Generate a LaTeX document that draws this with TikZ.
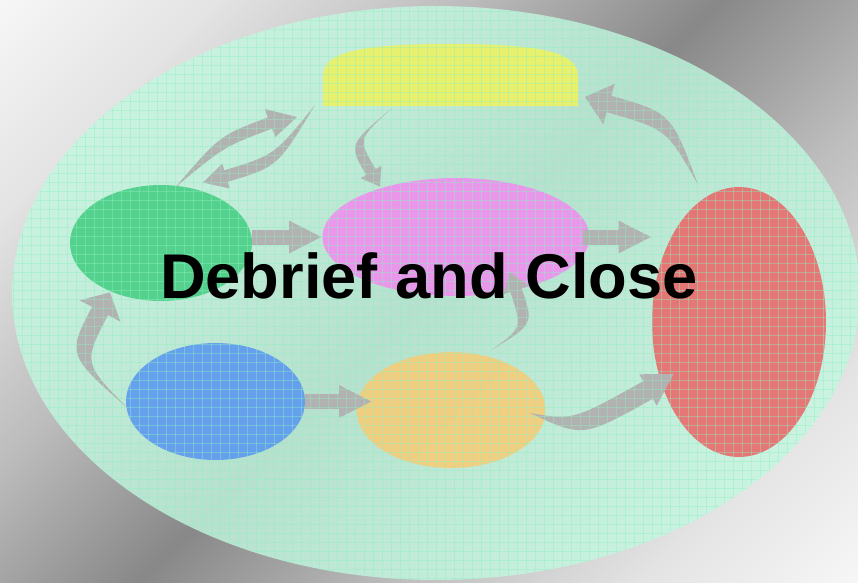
\documentclass[tikz,border=0pt]{standalone}
\usepackage{fontspec}
\setmainfont{Liberation Sans}
\usetikzlibrary{shapes.geometric,arrows.meta,calc}
\definecolor{bggray}{RGB}{136,136,136}
\definecolor{bgdark}{RGB}{188,188,188}
\definecolor{bgmid}{RGB}{228,228,228}
\definecolor{bglight}{RGB}{250,250,250}
\definecolor{mintfill}{RGB}{195,247,224}
\definecolor{mintline}{RGB}{140,240,190}
\definecolor{stepyellow}{RGB}{236,242,100}
\definecolor{stepgreen}{RGB}{75,208,135}
\definecolor{stepmagenta}{RGB}{238,145,238}
\definecolor{stepred}{RGB}{232,110,110}
\definecolor{stepblue}{RGB}{95,155,240}
\definecolor{steporange}{RGB}{245,205,122}
\definecolor{arrowgray}{RGB}{178,178,178}
\pgfdeclarehorizontalshading{bgdiag}{100bp}{color(0bp)=(white); color(12.5bp)=(bglight); color(25bp)=(bgmid);
  color(37.5bp)=(bgdark); color(50bp)=(bggray); color(62.5bp)=(bgdark); color(75bp)=(bgmid);
  color(87.5bp)=(bglight); color(100bp)=(white)}
% tapered bent arrow: tail, bend, head base, tip, shaft half width, head half width
\newcommand{\bentarrow}[6]{%
  \coordinate (bend) at (#2);
  \coordinate (hbase) at (#3);
  \fill[arrowgray] (#1) .. controls ($(bend)!#5*0.02cm!-90:(hbase)$) .. ($(hbase)!#5*0.02cm!90:(bend)$)
    -- ($(hbase)!#6*0.02cm!90:(bend)$) -- (#4) -- ($(hbase)!#6*0.02cm!-90:(bend)$)
    -- ($(hbase)!#5*0.02cm!-90:(bend)$) .. controls ($(bend)!#5*0.02cm!90:(hbase)$) .. (#1) -- cycle;
}

\begin{document}
\begin{tikzpicture}[x=0.02cm,y=-0.02cm,
  blob/.style={ellipse,inner sep=0pt,fill opacity=0.92},
  flatarrow/.style={arrowgray,line width=0.3cm,-{Triangle[width=0.6cm,length=0.66cm]}},
  gridline/.style={mintline,line width=0.5pt,opacity=0.4}]
\useasboundingbox (0,0) rectangle (858,582);
\shade[shading=bgdiag,shading angle=-45] (0,0) rectangle (858,582);
\fill[mintfill,fill opacity=0.8] (436,293) ellipse [x radius=8.48cm,y radius=5.74cm];
% steps
\coordinate (yellow) at (450,75);
\fill[stepyellow,fill opacity=0.92] (323,106) -- (323,76) .. controls (323,52) and (360,44) .. (450,44)
  .. controls (540,44) and (578,52) .. (578,76) -- (578,106) -- cycle;
\node[blob,fill=stepgreen,minimum width=3.64cm,minimum height=2.32cm] (green) at (161,243) {};
\node[blob,fill=stepmagenta,minimum width=5.34cm,minimum height=2.36cm] (magenta) at (456,237) {};
\node[blob,fill=stepred,minimum width=3.48cm,minimum height=5.4cm] (red) at (739,322) {};
\node[blob,fill=stepblue,minimum width=3.58cm,minimum height=2.34cm] (blue) at (215.5,401.5) {};
\node[blob,fill=steporange,minimum width=3.78cm,minimum height=2.32cm] (orange) at (451,410) {};
% straight arrows
\draw[flatarrow] (green.east |- magenta.west) -- (magenta.west);
\draw[flatarrow] ($(magenta.east)+(-7,0)$) -- (magenta.east -| red.west);
\draw[flatarrow] (blue.east) -- ($(blue.east -| orange.west)+(16,0)$);
% bent arrows
\bentarrow{$(orange.east)+(-16,3)$}{578,429}{648,390}{$(red.west)+(22,52)$}{10}{18}
\bentarrow{$(blue.west)+(4,8.5)$}{75,359}{100,311}{$(green.south)+(-51,-9)$}{9}{23}
\bentarrow{$(green.north)+(14,3)$}{222,141}{270,123}{$(yellow)+(-153,42)$}{6}{15}
\bentarrow{$(yellow)+(-135,30)$}{276,161}{226,176}{$(green.north)+(42,-2)$}{6}{13}
\bentarrow{$(yellow)+(-58,33)$}{353,142}{371,172}{$(magenta.north)+(-76,9)$}{5.5}{12}
\bentarrow{$(red.north)+(-41,-2)$}{669,121}{609,104}{$(yellow)+(135,22)$}{8.5}{21}
\bentarrow{$(orange.north)+(41,-2)$}{528,326}{516,290}{$(magenta.south)+(54,-24)$}{6}{13}
% grid texture
\begin{scope}
\clip (436,293) ellipse [x radius=8.48cm,y radius=5.74cm];
\foreach \gx in {4,13,...,858}{
  \draw[gridline] (\gx,0) -- (\gx,582);
}
\foreach \gy in {2,11,...,582}{
  \draw[gridline] (0,\gy) -- (858,\gy);
}
\end{scope}
\node[font=\bfseries\fontsize{36}{40}\selectfont,anchor=base] (title) at (429,298) {Debrief and Close};
\end{tikzpicture}
\end{document}
